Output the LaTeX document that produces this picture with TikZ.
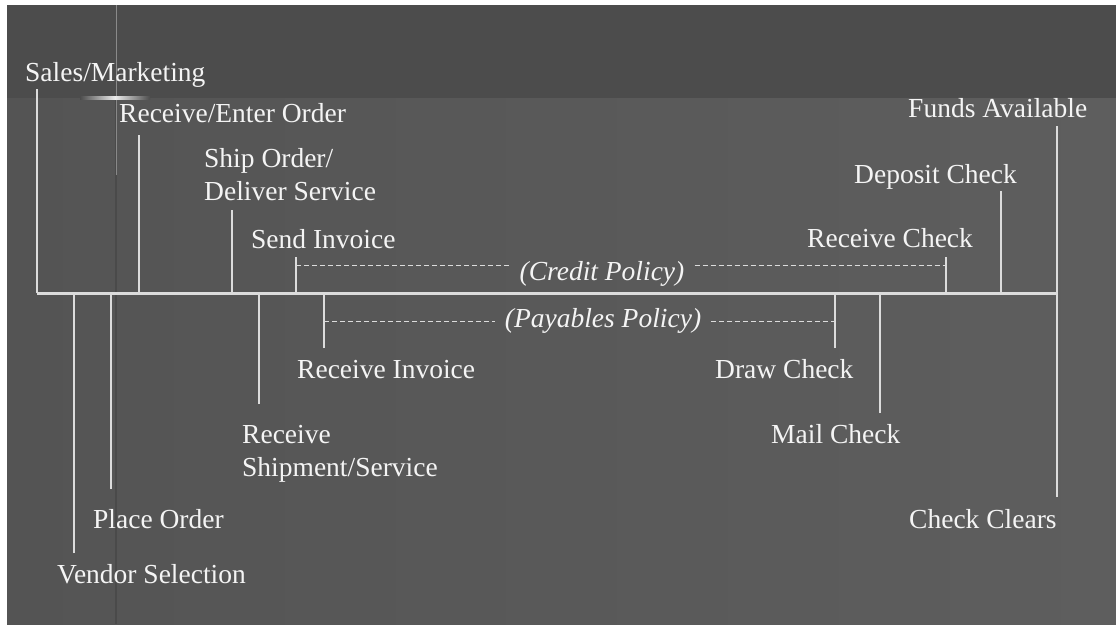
\documentclass[tikz,border=0pt]{standalone}
\usepackage{fontspec}
\setmainfont{Liberation Serif}

\definecolor{paneldark}{HTML}{4C4C4C}
\definecolor{panelleft}{HTML}{545454}
\definecolor{panelright}{HTML}{5E5E5E}
\definecolor{linegray}{HTML}{DCDCDC}
\definecolor{labeltext}{HTML}{F4F4F4}

\tikzset{
    lbl/.style={anchor=base west, inner sep=0pt, text=labeltext, align=left,
        font=\fontsize{27.5}{33}\selectfont},
    policy/.style={anchor=base, inner xsep=10pt, inner ysep=0pt, text=labeltext,
        font=\fontsize{27.5}{33}\selectfont\itshape},
    tick/.style={draw=linegray, line width=2pt},
    timeline/.style={draw=linegray, line width=3pt},
    policyline/.style={draw=linegray, line width=1pt, dash pattern=on 5pt off 3pt}
}

\begin{document}
\begin{tikzpicture}[x=1pt, y=-1pt]
    \useasboundingbox (0,0) rectangle (1116,627);

    % Backdrop
    \fill[white] (0,0) rectangle (1116,627);
    \shade[left color=panelleft, right color=panelright] (7,5) rectangle (1116,624);
    \fill[paneldark] (7,5) rectangle (1116,98);
    \draw[black, opacity=0.12, line width=1.5pt] (116,98) -- (116,624);
    \draw[white, opacity=0.35, line width=1pt] (116,5) -- (116,175);
    \shade[left color=paneldark, right color=paneldark, middle color=white!85!gray]
        (80,96.5) rectangle (150,99.5);

    % Main time line
    \coordinate (line-l) at (37,293);
    \coordinate (line-r) at (1057,293);
    \draw[timeline] (line-l) -- (line-r);

    % Ticks: name / x / free end
    \foreach \name/\x/\y in {sales/37/89, enter/139/135, ship/232/210, sendinv/296/257,
                             recvchk/946/257, deposit/1001/191, funds/1057/126,
                             vendor/74/553, place/111/489, recvship/259/404,
                             recvinv/324/348, drawchk/835/348, mail/880/413,
                             clears/1057/497} {
        \coordinate (\name-end) at (\x,\y);
        \draw[tick] (\name-end) -- (\name-end |- line-l);
    }

    % Events above the line (two-line labels sit on their last baseline)
    \node[lbl] (sales) at (25,81) {Sales/Marketing};
    \node[lbl] (enter) at (119,122) {Receive/Enter Order};
    \node[lbl] (ship) at (204,200) {Ship Order/\\Deliver Service};
    \node[lbl] (sendinv) at (251,248) {Send Invoice};
    \node[lbl] (recvchk) at (807,247) {Receive Check};
    \node[lbl] (deposit) at (854,183) {Deposit Check};
    \node[lbl] (funds) at (908,117) {Funds Available};

    % Events below the line
    \node[lbl] (vendor) at (57,583) {Vendor Selection};
    \node[lbl] (place) at (93,528) {Place Order};
    \node[lbl] (recvship) at (242,476) {Receive\\Shipment/Service};
    \node[lbl] (recvinv) at (297,378) {Receive Invoice};
    \node[lbl] (drawchk) at (715,378) {Draw Check};
    \node[lbl] (mail) at (771,443) {Mail Check};
    \node[lbl] (clears) at (909,528) {Check Clears};

    % Policy spans
    \node[policy] (credit) at (602,280) {(Credit Policy)};
    \node[policy] (payables) at (603,327) {(Payables Policy)};
    \coordinate (credit-l) at (296,265);
    \coordinate (credit-r) at (946,265);
    \coordinate (payables-l) at (324,321);
    \coordinate (payables-r) at (835,321);
    \draw[policyline] (credit-l) -- (credit-l -| credit.west);
    \draw[policyline] (credit-r -| credit.east) -- (credit-r);
    \draw[policyline] (payables-l) -- (payables-l -| payables.west);
    \draw[policyline] (payables-r -| payables.east) -- (payables-r);
\end{tikzpicture}
\end{document}
